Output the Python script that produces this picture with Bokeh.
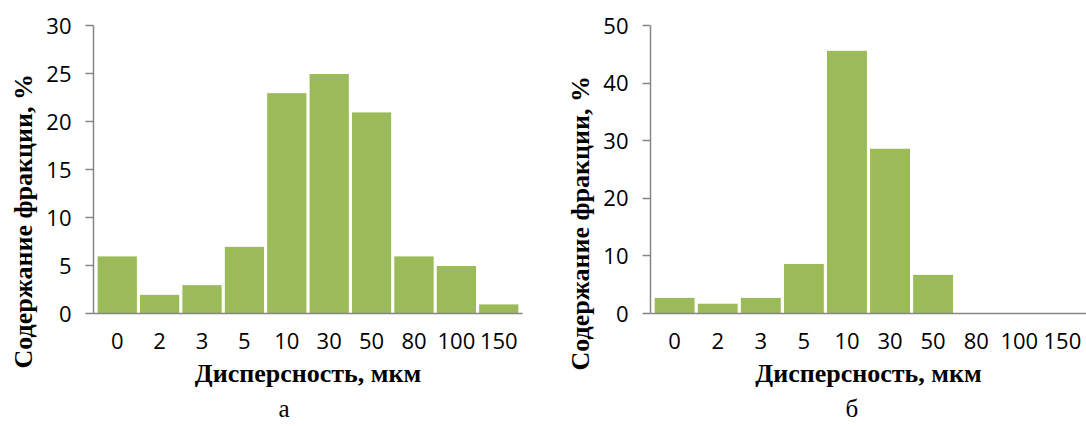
from bokeh.plotting import figure
from bokeh.models import Range1d, FactorRange, FixedTicker, Title, ColumnDataSource
from bokeh.layouts import row
from bokeh.embed import file_html
from bokeh.resources import INLINE

categories = ["0", "2", "3", "5", "10", "30", "50", "80", "100", "150"]
values_a = [6, 2, 3, 7, 23, 25, 21, 6, 5, 1]
values_b = [2.8, 1.8, 2.8, 8.7, 45.7, 28.7, 6.8, 0, 0, 0]
yticks_a = [0, 5, 10, 15, 20, 25, 30]
yticks_b = [0, 10, 20, 30, 40, 50]
x_title = "Дисперсность, мкм"
y_title = "Содержание фракции, %"
panel_a = "а"
panel_b = "б"

BAR = "#9BBB59"
AXIS = "#868686"
TICK_FONT = "Open Sans"
SERIF = "Liberation Serif"


def make(values, yticks, ymax, panel, width, bl, br, ytitle_off, pan_off):
    p = figure(x_range=FactorRange(*categories, range_padding=0.012),
               y_range=Range1d(0, ymax), width=width, height=426,
               output_backend="svg", toolbar_location=None,
               min_border_left=bl, min_border_right=br,
               min_border_top=25, min_border_bottom=113)
    cats = [c for c, v in zip(categories, values) if v > 0]
    vals = [v for v in values if v > 0]
    src = ColumnDataSource(dict(x=cats, top=vals))
    p.vbar(x="x", top="top", width=0.95, source=src, fill_color=BAR,
           line_color="white", line_width=1)
    p.xgrid.visible = False
    p.ygrid.visible = False
    p.outline_line_color = None
    p.background_fill_color = "white"
    p.border_fill_color = "white"

    p.yaxis.ticker = FixedTicker(ticks=yticks)
    p.yaxis.minor_tick_line_color = None
    p.yaxis.major_tick_in = 0
    p.yaxis.major_tick_out = 8
    p.yaxis.major_label_standoff = 14
    p.yaxis.axis_line_color = AXIS
    p.yaxis.major_tick_line_color = AXIS
    p.yaxis.axis_line_width = 1.5
    p.yaxis.major_tick_line_width = 1.5
    p.yaxis.major_label_text_font = TICK_FONT
    p.yaxis.major_label_text_font_size = "22px"
    p.yaxis.major_label_text_color = "black"

    p.xaxis.major_tick_line_color = None
    p.xaxis.minor_tick_line_color = None
    p.xaxis.major_tick_out = 0
    p.xaxis.major_tick_in = 0
    p.xaxis.axis_line_color = AXIS
    p.xaxis.axis_line_width = 1.5
    p.xaxis.major_label_standoff = 19
    p.xaxis.major_label_text_font = TICK_FONT
    p.xaxis.major_label_text_font_size = "22px"
    p.xaxis.major_label_text_color = "black"
    p.xaxis.axis_label = x_title
    p.xaxis.axis_label_text_font = SERIF
    p.xaxis.axis_label_text_font_style = "bold"
    p.xaxis.axis_label_text_font_size = "26px"
    p.xaxis.axis_label_text_color = "black"
    p.xaxis.axis_label_standoff = 7

    p.add_layout(Title(text=y_title, align="left", offset=ytitle_off,
                       text_font=SERIF, text_font_style="bold",
                       text_font_size="26px", text_color="black",
                       standoff=12), "left")
    p.add_layout(Title(text=panel, align="left", offset=pan_off,
                       text_font=SERIF, text_font_style="normal",
                       text_font_size="25px", text_color="black",
                       standoff=4), "below")
    return p


pa = make(values_a, yticks_a, 30, panel_a, 543, 91, 21, -55, 185)
pb = make(values_b, yticks_b, 50, panel_b, 543, 107, 0, -57, 195)

layout = row(pa, pb, spacing=0)
open("out.html", "w").write(file_html(layout, INLINE))
